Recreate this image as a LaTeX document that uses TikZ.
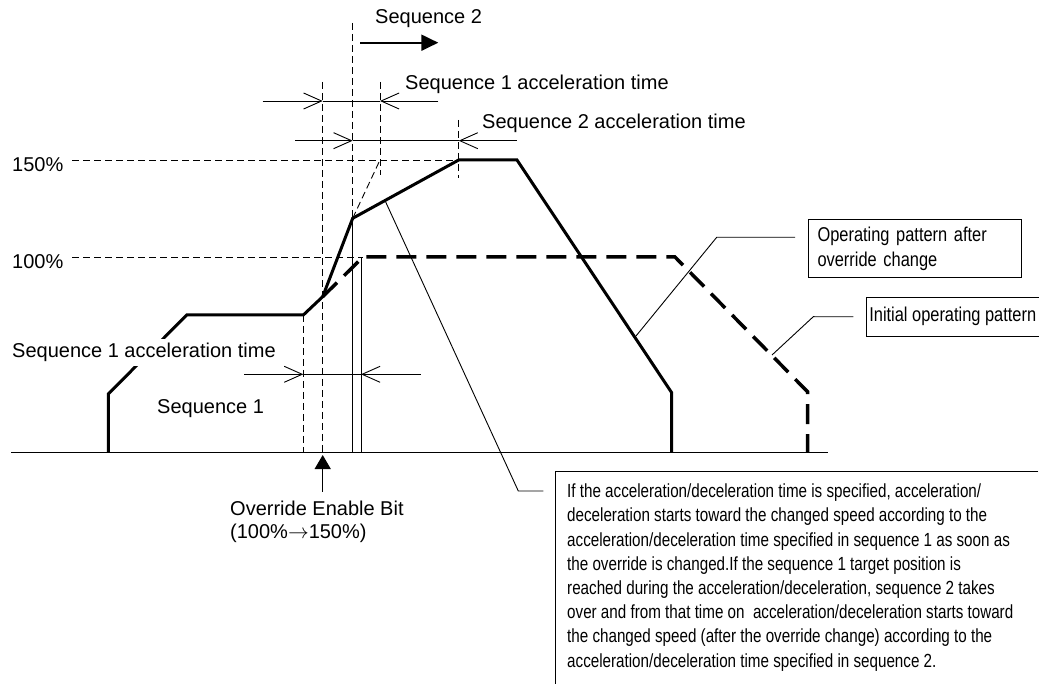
\documentclass[tikz,border=0pt]{standalone}
\usepackage{fontspec}
\setmainfont{Liberation Sans}
\newfontfamily\narrowsf[FakeStretch=0.82]{Liberation Sans}
\newfontfamily\notesf[FakeStretch=0.80]{Liberation Sans}
\usepackage{tikz}
\usetikzlibrary{arrows.meta}

\begin{document}
\begin{tikzpicture}[x=1pt, y=-1pt,
        label/.style={font=\fontsize{20}{23}\selectfont, inner sep=0pt},
        callout/.style={draw, line width=1.1pt, font=\narrowsf\fontsize{20}{25}\selectfont, align=left},
        guide/.style={line width=0.9pt, dash pattern=on 7pt off 4pt},
        dimline/.style={line width=0.9pt},
        dimtip/.style={dimline, -{Straight Barb[length=18pt, width=16pt]}},
        actual/.style={line width=3pt, line join=miter},
        initial/.style={line width=3.5pt, dash pattern=on 20pt off 10pt},
        leader/.style={line width=0.9pt}
    ]
        \useasboundingbox (0,0) rectangle (1039,684);

        \coordinate (bottomedge) at (0,684);
        \coordinate (rightedge) at (1038.3,0);
        \coordinate (enable) at (322.7,455);

        \draw[guide] (72,160) -- (458.7,160);
        \draw[guide] (72,257.3) -- (363,257.3);
        \draw[guide] (303.3,315) -- (303.3,452.5);
        \draw[guide] (322.7,82) -- (322.7,452.5);
        \draw[guide] (352.7,23) -- (352.7,218.3);
        \draw[guide] (380,82) -- (380,175);
        \draw[guide] (458.7,120) -- (458.7,178);
        \draw[guide] (352.7,218.3) -- (380,160);

        \draw[dimline] (352.7,218.3) -- (352.7,452.5);
        \draw[dimline] (361,257.3) -- (361,452.5);
        \draw[line width=1.2pt] (11,452.5) -- (828,452.5);

        \draw[dimtip] (262.7,101) -- (322.7,101);
        \draw[dimtip] (438.3,101) -- (380,101);
        \draw[dimline] (322.7,101) -- (380,101);
        \draw[dimtip] (295,140.7) -- (352.7,140.7);
        \draw[dimtip] (516.7,140.7) -- (458.7,140.7);
        \draw[dimline] (352.7,140.7) -- (458.7,140.7);
        \draw[dimtip] (244.3,374.3) -- (303.3,374.3);
        \draw[dimtip] (420.7,374.3) -- (361,374.3);
        \draw[dimline] (303.3,374.3) -- (361,374.3);

        \draw[line width=2pt, -{Triangle[length=17pt, width=16pt]}] (360,42.7) -- (438.3,42.7);

        \draw[actual] (108.3,452.5) -- (108.3,394) -- (186.7,315) -- (303.3,315) -- (322.7,296.7)
            -- (352.7,218.3) -- (458.7,160) -- (517,160) -- (671.7,392.7) -- (671.7,452.5);
        \draw[initial] (322.7,296.7) -- (363,257) -- (675,257) -- (807.5,391.7) -- (807.5,452.5);

        \node[label, anchor=west] (pct150) at (12,165) {150\%};
        \node[label, anchor=west] (pct100) at (12,261.7) {100\%};
        \node[label, anchor=west] (seqtwo) at (375,18.3) {Sequence 2};
        \node[label, anchor=west] (accone) at (405,84.5) {Sequence 1 acceleration time};
        \node[label, anchor=west] (acctwo) at (482,123.5) {Sequence 2 acceleration time};
        \node[label, anchor=west, fill=white, inner ysep=4pt] (acclow) at (12,352.3) {Sequence 1 acceleration time};
        \node[label, anchor=west] (seqone) at (157,408.3) {Sequence 1};
        \node[label, anchor=north west, align=left] (override) at (230,501) {Override Enable Bit\\(100\%$\rightarrow$150\%)};

        \draw[line width=1.2pt, -{Triangle[length=14pt, width=16pt]}] (enable |- override.north) ++(0,-9.3) -- (enable);

        \node[callout, anchor=north west, text width=195pt, inner xsep=9pt, minimum height=57.7pt] (afterbox) at (808,219)
            {Operating pattern after\\override change};
        \node[callout, anchor=north west, inner xsep=3pt, minimum width=173pt, minimum height=39pt] (initbox) at (865.7,296.7)
            {Initial operating pattern};
        \node[anchor=north west, inner xsep=12pt, inner ysep=12pt, align=left,
            font=\notesf\fontsize{19}{24.2}\selectfont] (notebox) at (555,471.7)
            {If the acceleration/deceleration time is specified, acceleration/\\
            deceleration starts toward the changed speed according to the\\
            acceleration/deceleration time specified in sequence 1 as soon as\\
            the override is changed.If the sequence 1 target position is\\
            reached during the acceleration/deceleration, sequence 2 takes\\
            over and from that time on \ acceleration/deceleration starts toward\\
            the changed speed (after the override change) according to the\\
            acceleration/deceleration time specified in sequence 2.};
        \draw[leader] (notebox.north west -| rightedge) -- (notebox.north west) -- (notebox.north west |- bottomedge);

        \draw[leader] (385,200.5) -- (518.3,491) -- ([xshift=-11.7pt, yshift=-19.3pt]notebox.north west);
        \draw[leader] (636,336) -- (716.7,237.3) -- ([xshift=-13pt, yshift=-18.3pt]afterbox.north west);
        \draw[leader] (772,355) -- (813.3,316.7) -- ([xshift=-12.4pt]initbox.west);
    \end{tikzpicture}
\end{document}
